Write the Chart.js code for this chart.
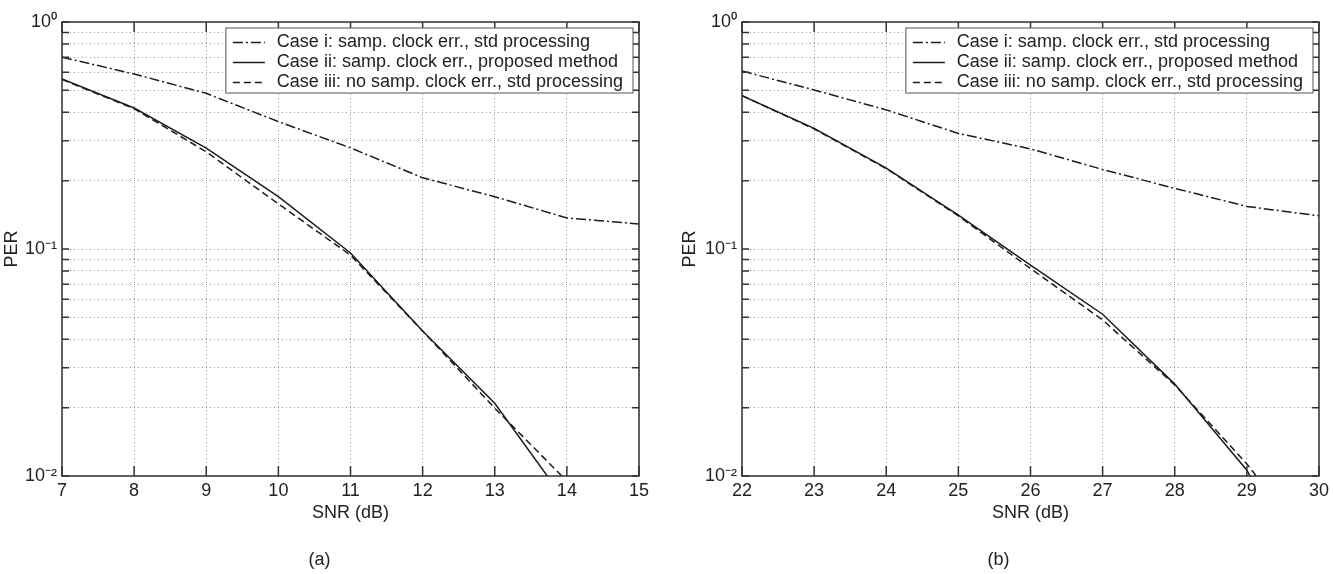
<!DOCTYPE html>
<html>
<head>
<meta charset="utf-8">
<script src="https://cdn.jsdelivr.net/npm/chart.js@4.4.0/dist/chart.umd.min.js"></script>
<style>
  body { margin: 0; background: #fff; }
  .panel { position: absolute; top: 0; }
</style>
</head>
<body>
<div class="panel" style="left:0"><canvas id="chartA" width="666" height="574"></canvas></div>
<div class="panel" style="left:678px"><canvas id="chartB" width="655" height="574"></canvas></div>
<script>
// valores (PER vs SNR)
const snrA = [7, 8, 9, 10, 11, 12, 13, 14, 15];
const caseIA = [0.70, 0.59, 0.485, 0.364, 0.279, 0.206, 0.170, 0.137, 0.129];
const caseIIA = [0.561, 0.418, 0.278, 0.170, 0.096, 0.0435, 0.0209, 0.0076, 0.0025];
const caseIIIA = [0.558, 0.415, 0.268, 0.158, 0.094, 0.0435, 0.0199, 0.0095, 0.0040];

const snrB = [22, 23, 24, 25, 26, 27, 28, 29, 30];
const caseIB = [0.608, 0.502, 0.41, 0.323, 0.276, 0.224, 0.185, 0.154, 0.14];
const caseIIB = [0.474, 0.340, 0.227, 0.141, 0.085, 0.0516, 0.0254, 0.0106, 0.0027];
const caseIIIB = [0.474, 0.338, 0.226, 0.140, 0.082, 0.0487, 0.0252, 0.0113, 0.0044];

const seriesLabels = [
    'Case i: samp. clock err., std processing',
    'Case ii: samp. clock err., proposed method',
    'Case iii: no samp. clock err., std processing'
];
const perTicks = [0.01, 0.02, 0.03, 0.04, 0.05, 0.06, 0.07, 0.08, 0.09,
                  0.1, 0.2, 0.3, 0.4, 0.5, 0.6, 0.7, 0.8, 0.9, 1];
const perTickLabels = { '0.01': '10⁻²', '0.1': '10⁻¹', '1': '10⁰' };

const FONT = "'Liberation Sans', Arial, Helvetica, sans-serif";
const INK = '#222';

// marco, marcas hacia dentro y leyenda con recuadro (estilo matlab)
const framePlugin = {
    id: 'frame',
    afterDatasetsDraw(chart) {
        const { ctx, chartArea: a, scales: { x, y } } = chart;
        ctx.save();
        ctx.setLineDash([]);
        ctx.strokeStyle = '#333';
        ctx.lineWidth = 1.5;
        ctx.beginPath();
        x.ticks.forEach(t => {
            const px = x.getPixelForValue(t.value);
            ctx.moveTo(px, a.bottom); ctx.lineTo(px, a.bottom - 10);
            ctx.moveTo(px, a.top); ctx.lineTo(px, a.top + 10);
        });
        y.ticks.forEach(t => {
            const py = y.getPixelForValue(t.value);
            ctx.moveTo(a.left, py); ctx.lineTo(a.left + 7, py);
            ctx.moveTo(a.right, py); ctx.lineTo(a.right - 7, py);
        });
        ctx.stroke();
        ctx.strokeRect(a.left, a.top, a.right - a.left, a.bottom - a.top);

        // leyenda
        ctx.font = '18px ' + FONT;
        const sets = chart.data.datasets;
        const textW = Math.max(...sets.map(d => ctx.measureText(d.label).width));
        const w = 51 + textW + 10;
        const h = 65;
        const bx = a.right - 6 - w;
        const by = a.top + 6;
        ctx.fillStyle = '#fff';
        ctx.fillRect(bx, by, w, h);
        ctx.strokeStyle = '#555';
        ctx.lineWidth = 1;
        ctx.strokeRect(bx, by, w, h);
        sets.forEach((d, i) => {
            const ry = by + 14.5 + i * 20;
            ctx.strokeStyle = d.borderColor;
            ctx.lineWidth = d.borderWidth;
            ctx.setLineDash(d.borderDash || []);
            ctx.beginPath();
            ctx.moveTo(bx + 7, ry); ctx.lineTo(bx + 39, ry);
            ctx.stroke();
            ctx.setLineDash([]);
            ctx.fillStyle = INK;
            ctx.textBaseline = 'middle';
            ctx.fillText(d.label, bx + 51, ry);
        });
        ctx.restore();
    }
};

function drawPerChart(canvasId, snr, series, caption, yAxisWidth, padRight) {
    const styles = [
        { borderDash: [10, 3, 2, 3] },
        { borderDash: [] },
        { borderDash: [7, 4] }
    ];
    const ctx = document.getElementById(canvasId).getContext('2d');
    new Chart(ctx, {
        type: 'line',
        data: {
            datasets: series.map((vals, k) => ({
                label: seriesLabels[k],
                data: snr.map((s, i) => ({ x: s, y: vals[i] })),
                borderColor: '#1c1c1c',
                borderWidth: 1.5,
                borderDash: styles[k].borderDash,
                pointRadius: 0,
                tension: 0,
                fill: false
            }))
        },
        options: {
            responsive: false,
            animation: false,
            layout: { padding: { top: 22, right: padRight, bottom: 3.2, left: 0 } },
            plugins: {
                legend: { display: false },
                tooltip: { enabled: false },
                subtitle: {
                    display: true,
                    text: caption,
                    position: 'bottom',
                    color: INK,
                    font: { family: FONT, size: 18, weight: 'normal' },
                    padding: { top: 0, bottom: 0 }
                }
            },
            scales: {
                x: {
                    type: 'linear',
                    min: snr[0],
                    max: snr[snr.length - 1],
                    ticks: { stepSize: 1, color: INK, padding: 4, font: { family: FONT, size: 18 } },
                    grid: { color: '#9a9a9a', lineWidth: 1, drawTicks: false },
                    border: { display: false, dash: [1, 3] },
                    title: {
                        display: true,
                        text: 'SNR (dB)',
                        color: INK,
                        font: { family: FONT, size: 18 },
                        padding: { top: 0, bottom: 25.4 }
                    },
                    afterFit: scale => { scale.height = 73.2; }
                },
                y: {
                    type: 'logarithmic',
                    min: 0.01,
                    max: 1,
                    afterBuildTicks: scale => {
                        scale.ticks = perTicks.map(v => ({ value: v }));
                    },
                    ticks: {
                        color: INK,
                        padding: 5,
                        font: { family: FONT, size: 18 },
                        autoSkip: false,
                        callback: v => perTickLabels[String(v)] || ''
                    },
                    grid: { color: '#9a9a9a', lineWidth: 1, drawTicks: false },
                    border: { display: false, dash: [1, 3] },
                    title: {
                        display: true,
                        text: 'PER',
                        color: INK,
                        font: { family: FONT, size: 18 },
                        padding: { top: 1.2, bottom: 0 }
                    },
                    afterFit: scale => { scale.width = yAxisWidth; }
                }
            }
        },
        plugins: [framePlugin]
    });
}

document.addEventListener('DOMContentLoaded', () => {
    drawPerChart('chartA', snrA, [caseIA, caseIIA, caseIIIA], '(a)', 62, 27);
    drawPerChart('chartB', snrB, [caseIB, caseIIB, caseIIIB], '(b)', 64, 14);
});
</script>
</body>
</html>
